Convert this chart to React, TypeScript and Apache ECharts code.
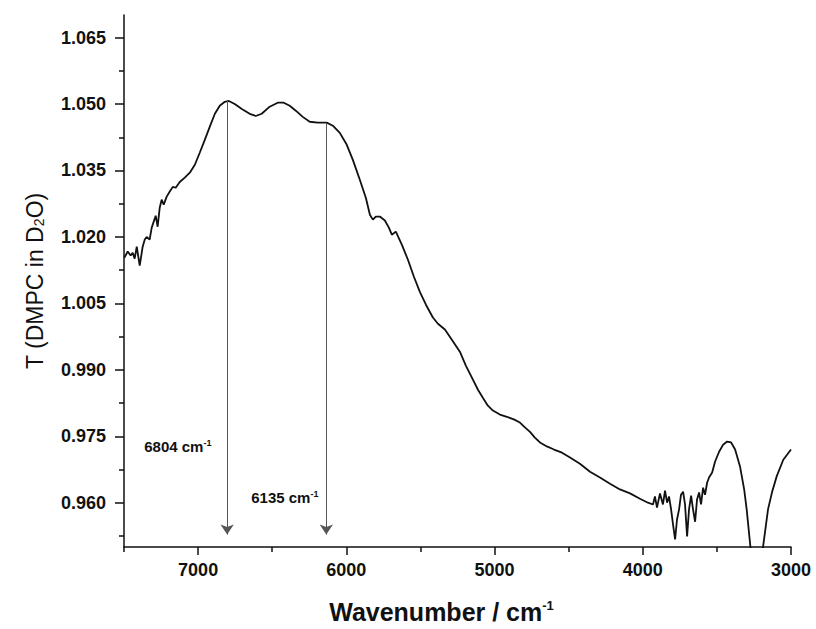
import React, { useEffect, useRef } from 'react';
import * as echarts from 'echarts';

// Wavenumber (cm^-1) and transmittance
const wavenumbers = [
  7498, 7475, 7455, 7441, 7428, 7414, 7394, 7374, 7360, 7347, 7327, 7313, 7300, 7286, 7273, 7259, 7246, 7232, 7212, 7192,
  7171, 7151, 7124, 7090, 7056, 7022, 6989, 6955, 6921, 6887, 6854, 6820, 6793, 6753, 6705, 6652, 6611, 6571, 6517, 6463,
  6422, 6382, 6341, 6294, 6247, 6193, 6132, 6091, 6044, 5997, 5956, 5909, 5868, 5841, 5821, 5801, 5774, 5740, 5713, 5693,
  5666, 5625, 5585, 5544, 5504, 5463, 5416, 5382, 5335, 5288, 5234, 5193, 5146, 5112, 5079, 5045, 5011, 4964, 4917, 4870,
  4829, 4795, 4761, 4728, 4694, 4647, 4599, 4545, 4491, 4424, 4356, 4289, 4221, 4154, 4086, 4019, 3965, 3931, 3918, 3904,
  3884, 3864, 3850, 3836, 3823, 3809, 3796, 3782, 3769, 3755, 3742, 3728, 3715, 3701, 3688, 3674, 3661, 3647, 3634, 3620,
  3607, 3593, 3580, 3566, 3553, 3532, 3512, 3485, 3458, 3431, 3404, 3377, 3344, 3316, 3299, 3269, 3255, 3230, 3205, 3195,
  3155, 3127, 3096, 3052, 3000,
];
const transmittance = [
  1.0153, 1.0167, 1.0158, 1.0164, 1.0151, 1.0178, 1.0135, 1.0178, 1.0194, 1.02, 1.0194, 1.0221, 1.0234, 1.0248, 1.0223, 1.0266, 1.0284, 1.0273, 1.0291, 1.0302,
  1.0313, 1.0311, 1.0324, 1.0334, 1.0345, 1.0363, 1.039, 1.0419, 1.0449, 1.0478, 1.0496, 1.0505, 1.0507, 1.05, 1.0489, 1.0478, 1.0473, 1.0478, 1.0494, 1.0503,
  1.0503, 1.0496, 1.0485, 1.0471, 1.046, 1.0458, 1.0458, 1.0451, 1.0435, 1.0408, 1.0374, 1.0329, 1.0288, 1.025, 1.0239, 1.0246, 1.0246, 1.0237, 1.0221, 1.0205,
  1.0212, 1.0182, 1.0149, 1.011, 1.0076, 1.0047, 1.0018, 1.0004, 0.9991, 0.9968, 0.9941, 0.9909, 0.9878, 0.9855, 0.9837, 0.9819, 0.9808, 0.9799, 0.9794, 0.9788,
  0.9781, 0.977, 0.976, 0.9747, 0.9736, 0.9727, 0.972, 0.9713, 0.9702, 0.9688, 0.967, 0.9657, 0.9643, 0.963, 0.9621, 0.9609, 0.96, 0.9596, 0.9614, 0.9589,
  0.9621, 0.9596, 0.9627, 0.96, 0.9614, 0.9585, 0.9551, 0.9517, 0.9562, 0.9585, 0.9618, 0.9625, 0.9596, 0.9524, 0.9585, 0.9616, 0.9585, 0.9557, 0.9607, 0.9623,
  0.9596, 0.9634, 0.9618, 0.9645, 0.9657, 0.9668, 0.9693, 0.9715, 0.9731, 0.9738, 0.9736, 0.972, 0.9682, 0.963, 0.9585, 0.9484, 0.944, 0.942, 0.944, 0.9484,
  0.9585, 0.9625, 0.966, 0.9697, 0.972,
];

const xMajorTicks = [7000, 6000, 5000, 4000, 3000];
const xMinorTicks = [7500, 6500, 5500, 4500, 3500];
const yMajorTicks = [0.96, 0.975, 0.99, 1.005, 1.02, 1.035, 1.05, 1.065];
const yMinorTicks = [0.9525, 0.9675, 0.9825, 0.9975, 1.0125, 1.0275, 1.0425, 1.0575];

const peakLabels = ['6804', '6135'];
const peakPositions = [6804, 6135];
const peakTops = [1.0507, 1.0458];
const arrowBottom = 0.9528;
const labelAnchors: [number, number][] = [
  [7137, 0.9727],
  [6415, 0.9612],
];

const FONT = '"Liberation Sans", Arial, Helvetica, sans-serif';

export default function App() {
  const ref = useRef<HTMLDivElement>(null);

  useEffect(() => {
    if (!ref.current) return;
    const chart = echarts.init(ref.current, null, { renderer: 'svg' });
    const data = wavenumbers.map((w, i) => [w, transmittance[i]]);

    const axisLineStyle = { color: '#111', width: 1.5 };

    const option: any = {
      animation: false,
      backgroundColor: '#fff',
      textStyle: { fontFamily: FONT },
      grid: { left: 124, right: 25, top: 15, bottom: 81 },
      xAxis: [
        {
          type: 'value',
          min: 3000,
          max: 7500,
          inverse: true,
          position: 'bottom',
          axisLine: { show: true, lineStyle: axisLineStyle },
          axisTick: { show: true, customValues: xMajorTicks, length: 8, lineStyle: axisLineStyle },
          axisLabel: {
            show: true,
            customValues: xMajorTicks,
            margin: 14,
            color: '#111',
            fontSize: 18,
            fontWeight: 'bold',
            fontFamily: FONT,
            formatter: (v: number) => String(Math.round(v)),
          },
          splitLine: { show: false },
          name: 'Wavenumber / cm{sup|-1}',
          nameLocation: 'middle',
          nameGap: 52,
          nameTextStyle: {
            color: '#111',
            fontSize: 25,
            fontWeight: 'bold',
            fontFamily: FONT,
            padding: [0, 32, 0, 0],
            rich: {
              sup: { fontSize: 13, fontWeight: 'bold', verticalAlign: 'top', color: '#111', fontFamily: FONT },
            },
          },
        },
        {
          type: 'value',
          min: 3000,
          max: 7500,
          inverse: true,
          position: 'bottom',
          axisLine: { show: false },
          axisTick: { show: true, customValues: xMinorTicks, length: 5, lineStyle: axisLineStyle },
          axisLabel: { show: false },
          splitLine: { show: false },
        },
      ],
      yAxis: [
        {
          type: 'value',
          min: 0.95,
          max: 1.0701,
          position: 'left',
          axisLine: { show: true, lineStyle: axisLineStyle },
          axisTick: { show: true, customValues: yMajorTicks, length: 9, lineStyle: axisLineStyle },
          axisLabel: {
            show: true,
            customValues: yMajorTicks,
            margin: 18,
            color: '#111',
            fontSize: 18,
            fontWeight: 'bold',
            fontFamily: FONT,
            formatter: (v: number) => v.toFixed(3),
          },
          splitLine: { show: false },
          name: 'T (DMPC in D{sub|2}O)',
          nameLocation: 'middle',
          nameGap: 78,
          nameTextStyle: {
            color: '#111',
            fontSize: 23,
            fontFamily: FONT,
            rich: {
              sub: { fontSize: 14, verticalAlign: 'bottom', color: '#111', fontFamily: FONT },
            },
          },
        },
        {
          type: 'value',
          min: 0.95,
          max: 1.0701,
          position: 'left',
          axisLine: { show: false },
          axisTick: { show: true, customValues: yMinorTicks, length: 5, lineStyle: axisLineStyle },
          axisLabel: { show: false },
          splitLine: { show: false },
        },
      ],
      series: [
        {
          type: 'line',
          xAxisIndex: 0,
          yAxisIndex: 0,
          data,
          showSymbol: false,
          symbol: 'none',
          clip: true,
          lineStyle: { color: '#111', width: 1.8 },
          markLine: {
            silent: true,
            symbol: ['none', 'arrow'],
            symbolSize: 10,
            label: { show: false },
            lineStyle: { color: '#555', width: 1, type: 'solid' },
            emphasis: { disabled: true },
            data: peakPositions.map((p, i) => [
              { coord: [p, peakTops[i]] },
              { coord: [p, arrowBottom] },
            ]),
          },
          markPoint: {
            silent: true,
            symbol: 'circle',
            symbolSize: 0,
            data: peakLabels.map((l, i) => ({
              coord: labelAnchors[i],
              label: {
                show: true,
                position: 'inside',
                formatter: l + ' cm{sup|-1}',
                color: '#111',
                fontSize: 15,
                fontWeight: 'bold',
                fontFamily: FONT,
                rich: {
                  sup: { fontSize: 9, fontWeight: 'bold', verticalAlign: 'top', color: '#111', fontFamily: FONT },
                },
              },
            })),
          },
        },
      ],
    };

    chart.setOption(option);
    return () => chart.dispose();
  }, []);

  return (
    <div
      ref={ref}
      style={{ position: 'fixed', left: 0, top: 0, width: 816, height: 629, background: '#fff' }}
    />
  );
}
